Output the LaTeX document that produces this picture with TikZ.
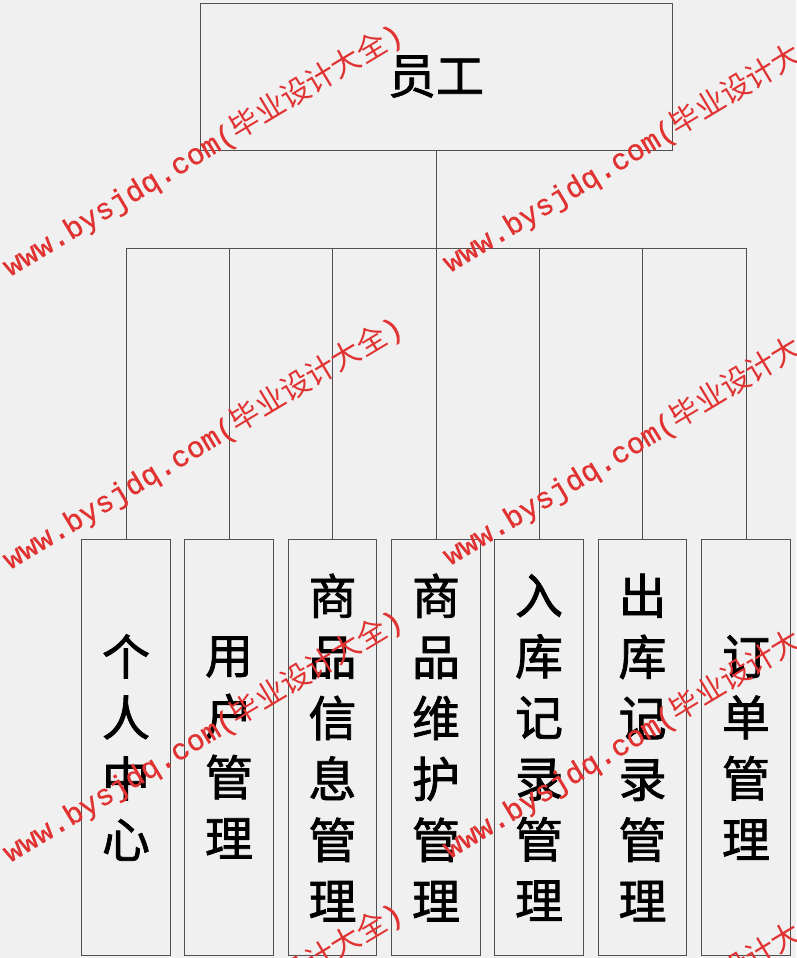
\documentclass[tikz,border=0pt]{standalone}
\usepackage{fontspec}
\newfontfamily\cjk{Noto Sans CJK SC}
\newfontfamily\cjkb[FakeBold=1.6]{Noto Sans CJK SC}
\newfontfamily\wmmono[FakeBold=0.8]{Liberation Mono}
\definecolor{bg}{RGB}{240,240,240}
\definecolor{edge}{RGB}{80,80,80}
\definecolor{wmred}{RGB}{225,50,50}
\tikzset{
  box/.style={draw=edge, line width=0.9pt, inner sep=0pt, align=center,
    font=\cjkb\fontsize{48}{61}\selectfont},
  topbox/.style={box, minimum width=472pt, minimum height=147pt},
  leaf/.style={box, minimum width=88.5pt, minimum height=416pt, text width=60pt},
  conn/.style={draw=edge, line width=0.9pt},
  wm/.style={text=wmred, anchor=base west, rotate=31, inner sep=0pt,
    font=\fontsize{29.5}{30}\selectfont}
}
\newcommand\wmtext{{\wmmono www.bysjdq.com(}{\cjk 毕业设计大全}{\wmmono )}}
\begin{document}
\begin{tikzpicture}[x=1pt,y=-1pt]
\fill[bg] (0,0) rectangle (796,958);
\useasboundingbox (0,0) rectangle (796,958);
\node[topbox] (top) at (436,76.5) {员工};
\node[leaf] (c1) at (126,747.5) {个\\人\\中\\心};
\node[leaf] (c2) at (229,747.5) {用\\户\\管\\理};
\node[leaf] (c3) at (332.5,747.5) {商\\品\\信\\息\\管\\理};
\node[leaf] (c4) at (436,747.5) {商\\品\\维\\护\\管\\理};
\node[leaf] (c5) at (539,747.5) {入\\库\\记\\录\\管\\理};
\node[leaf] (c6) at (642.5,747.5) {出\\库\\记\\录\\管\\理};
\node[leaf] (c7) at (746,747.5) {订\\单\\管\\理};
\coordinate (bus) at (0,248);
\draw[conn] (top.south) -- (top.south |- bus);
\draw[conn] (c1.north |- bus) -- (c7.north |- bus);
\foreach \c in {c1,c2,c3,c4,c5,c6,c7}
  \draw[conn] (\c.north) -- (\c.north |- bus);
\begin{scope}
\clip (0,0) rectangle (796,958);
\foreach \i/\x/\y in {1/10/277, 2/450/273, 3/10/570, 4/450/566, 5/10/863, 6/450/859, 7/10/1156, 8/450/1152}
  \node[wm] (wm\i) at (\x,\y) {\wmtext};
\end{scope}
\end{tikzpicture}
\end{document}
